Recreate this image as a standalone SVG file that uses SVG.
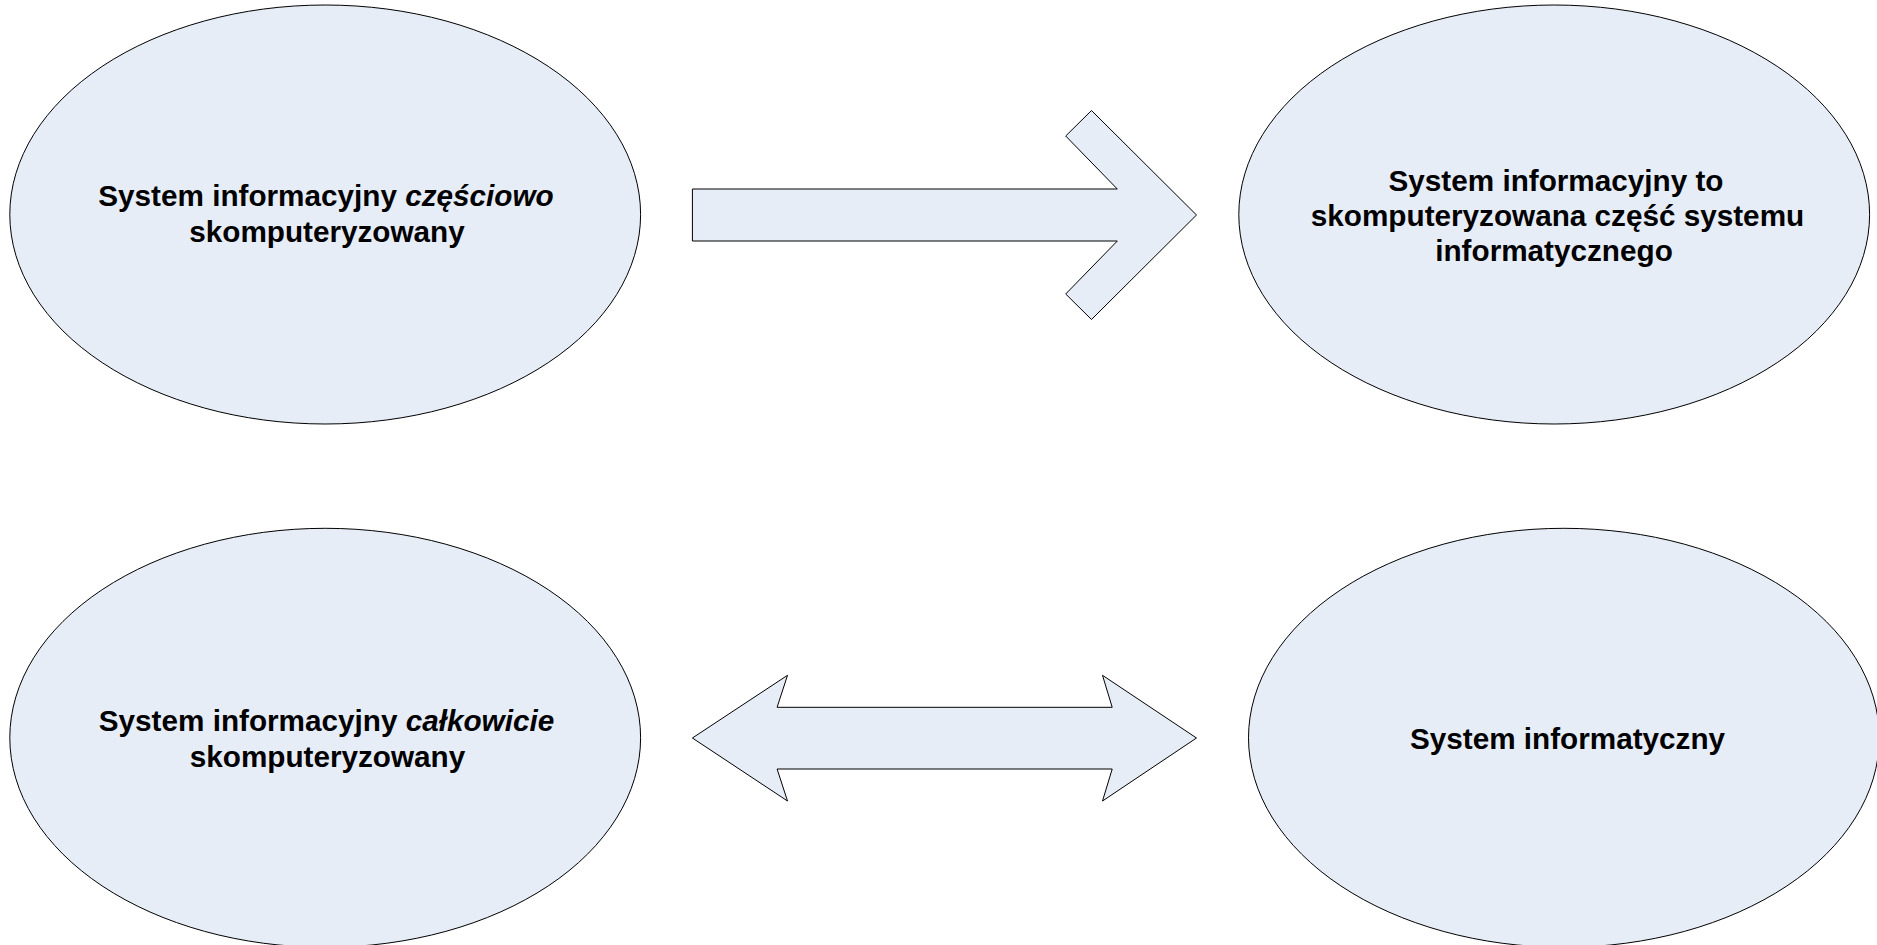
<svg xmlns="http://www.w3.org/2000/svg" width="1877" height="945" viewBox="0 0 1877 945">
<style>
.shape{fill:#E6EDF7;stroke:#000;stroke-width:1}
.lbl{font-family:"Liberation Sans",Arial,sans-serif;font-weight:bold;font-size:29.7px;fill:#000;text-anchor:middle}
.it{font-style:italic}
</style>
<rect width="1877" height="945" fill="#fff"/>
<g id="node-czesciowo">
<ellipse class="shape" cx="325.2" cy="214.5" rx="315.4" ry="209.5"/>
<text class="lbl" x="326" y="205.7">System informacyjny <tspan class="it">częściowo</tspan></text>
<text class="lbl" x="327" y="241.5">skomputeryzowany</text>
</g>
<g id="node-informacyjny-to">
<ellipse class="shape" cx="1554.2" cy="214.5" rx="315.4" ry="209.5"/>
<text class="lbl" x="1556" y="190.7">System informacyjny to</text>
<text class="lbl" x="1557.5" y="225.7">skomputeryzowana część systemu</text>
<text class="lbl" x="1554" y="260.7">informatycznego</text>
</g>
<g id="node-calkowicie">
<ellipse class="shape" cx="325.2" cy="737.8" rx="315.4" ry="209.5"/>
<text class="lbl" x="326.5" y="730.7">System informacyjny <tspan class="it">całkowicie</tspan></text>
<text class="lbl" x="327.5" y="766.7">skomputeryzowany</text>
</g>
<g id="node-informatyczny">
<ellipse class="shape" cx="1563.9" cy="737.8" rx="315.4" ry="209.5"/>
<text class="lbl" x="1567.5" y="749.3">System informatyczny</text>
</g>
<g id="connectors">
<polygon class="shape" points="692.4,189 1117.3,189 1065.7,136 1091.5,110.5 1196.5,215 1091.5,319.5 1065.7,294 1117.3,241 692.4,241"/>
<polygon class="shape" points="692.4,738 787.5,675.3 777.1,707.3 1112.2,707.3 1102.5,675.3 1196.5,738 1102.5,801 1112.2,769 777.1,769 787.5,801"/>
</g>
</svg>
